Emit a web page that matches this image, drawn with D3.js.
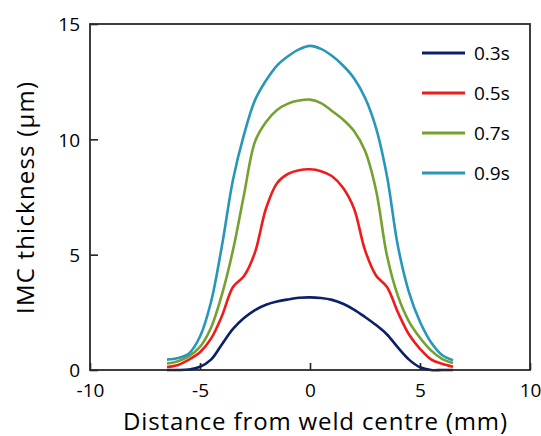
<!DOCTYPE html>
<html>
<head>
<meta charset="utf-8">
<script src="https://cdn.jsdelivr.net/npm/d3@7"></script>
<style>
  html, body { margin: 0; padding: 0; background: #fff; }
  svg { display: block; }
  text { font-family: "Open Sans", "Noto Sans", sans-serif; fill: #000; }
</style>
</head>
<body>
<svg id="chart" width="541" height="436"></svg>
<script>
// Distance from weld centre (mm), shared by every series
const distance = [-6.5, -6, -5.5, -5, -4.5, -4, -3.5, -3, -2.5, -2, -1.5, -1, -0.5, 0,
                  0.5, 1, 1.5, 2, 2.5, 3, 3.5, 4, 4.5, 5, 5.5, 6, 6.5];

// IMC thickness (µm) for each welding time
const t03 = [0, 0, 0.02, 0.14, 0.45, 1.12, 1.78, 2.25, 2.6, 2.83, 2.97, 3.06, 3.13, 3.15,
             3.12, 3.04, 2.87, 2.62, 2.3, 1.95, 1.54, 0.97, 0.45, 0.12, 0, 0, 0];
const t05 = [0.13, 0.22, 0.45, 0.77, 1.36, 2.35, 3.6, 4.07, 5.1, 7.0, 8.1, 8.5, 8.66, 8.7,
             8.62, 8.4, 7.9, 7.0, 5.2, 4.1, 3.6, 2.49, 1.54, 0.92, 0.46, 0.27, 0.14];
const t07 = [0.28, 0.38, 0.6, 1.0, 1.83, 3.28, 5.2, 7.6, 9.9, 10.75, 11.27, 11.55, 11.68, 11.72,
             11.57, 11.23, 10.86, 10.36, 9.5, 7.8, 4.95, 3.2, 2.1, 1.4, 0.85, 0.48, 0.3];
const t09 = [0.45, 0.52, 0.72, 1.45, 2.95, 5.4, 8.25, 10.2, 11.7, 12.55, 13.2, 13.6, 13.9, 14.05,
             13.92, 13.62, 13.2, 12.65, 11.8, 10.5, 8.4, 5.35, 3.37, 2.09, 1.2, 0.65, 0.42];

const seriesNames = ["0.3s", "0.5s", "0.7s", "0.9s"];
const seriesValues = [t03, t05, t07, t09];
const seriesColors = ["#0b1f6b", "#ee1c1c", "#74a12f", "#2896b9"];

const xTicks = [-10, -5, 0, 5, 10];
const yTicks = [0, 5, 10, 15];

const svg = d3.select("#chart");
const margin = { left: 90, top: 24, right: 11, bottom: 66 };
const W = 541, H = 436;

const x = d3.scaleLinear().domain([-10, 10]).range([margin.left, W - margin.right]);
const y = d3.scaleLinear().domain([0, 15]).range([H - margin.bottom, margin.top]);

// smoothed curves through the measured points
const line = d3.line()
  .x(d => x(d[0]))
  .y(d => y(Math.max(0, d[1])))
  .curve(d3.curveCatmullRom.alpha(0.5));

seriesValues.forEach((vals, i) => {
  svg.append("path")
    .datum(distance.map((d, j) => [d, vals[j]]))
    .attr("fill", "none")
    .attr("stroke", seriesColors[i])
    .attr("stroke-width", 2.6)
    .attr("stroke-linejoin", "round")
    .attr("d", line);
});

// axes with inward ticks; plain hyphen for negative labels
const fmt = d => String(d);
const xAxis = svg.append("g")
  .attr("transform", `translate(0,${y(0)})`)
  .call(d3.axisBottom(x).tickValues(xTicks).tickFormat(fmt)
    .tickSizeInner(-7).tickSizeOuter(0).tickPadding(14));
const yAxis = svg.append("g")
  .attr("transform", `translate(${x(-10)},0)`)
  .call(d3.axisLeft(y).tickValues(yTicks).tickFormat(fmt)
    .tickSizeInner(-8).tickSizeOuter(0).tickPadding(10));

[xAxis, yAxis].forEach(g => {
  g.select(".domain").remove();
  g.selectAll(".tick line").attr("stroke", "#222").attr("stroke-width", 1.6);
  g.selectAll(".tick text")
    .attr("font-size", 19)
    .attr("fill", "#000")
    .style("font-family", "'Open Sans', sans-serif");
});
yAxis.selectAll(".tick text").attr("dy", "0.36em");

// plot frame
svg.append("rect")
  .attr("x", x(-10)).attr("y", y(15))
  .attr("width", x(10) - x(-10)).attr("height", y(0) - y(15))
  .attr("fill", "none").attr("stroke", "#2a2a2a").attr("stroke-width", 1.8);

// axis titles
svg.append("text")
  .attr("x", 315).attr("y", 430)
  .attr("text-anchor", "middle")
  .attr("font-size", 24)
  .attr("textLength", 384)
  .attr("lengthAdjust", "spacing")
  .text("Distance from weld centre (mm)");

svg.append("text")
  .attr("transform", "translate(34,198) rotate(-90)")
  .attr("text-anchor", "middle")
  .attr("font-size", 24)
  .attr("textLength", 232)
  .attr("lengthAdjust", "spacing")
  .text("IMC thickness (µm)");

// legend
const legend = svg.append("g");
seriesNames.forEach((name, i) => {
  const ly = 53 + i * 40;
  legend.append("line")
    .attr("x1", 422).attr("x2", 465)
    .attr("y1", ly).attr("y2", ly)
    .attr("stroke", seriesColors[i]).attr("stroke-width", 3);
  legend.append("text")
    .attr("x", 474).attr("y", ly)
    .attr("dy", "0.36em")
    .attr("font-size", 19)
    .text(name);
});
</script>
</body>
</html>
